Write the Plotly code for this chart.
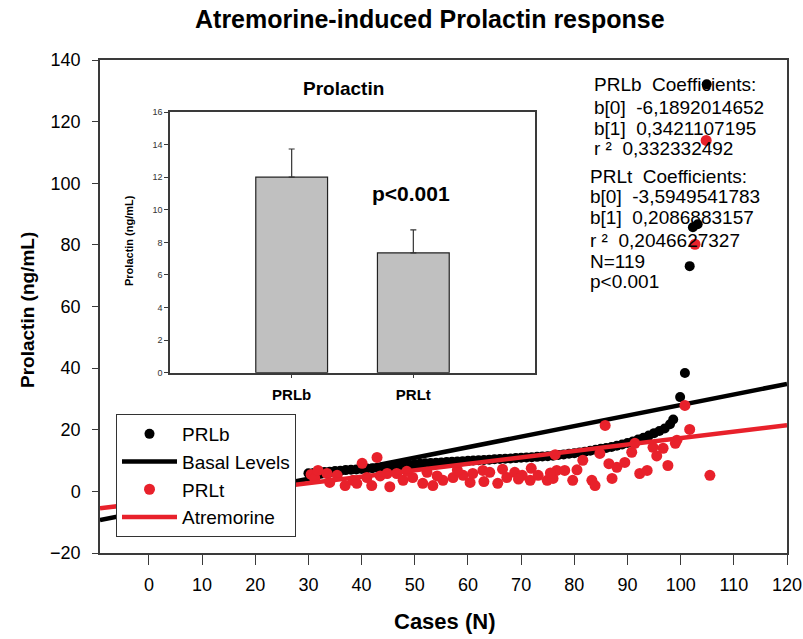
import plotly.graph_objects as go

# ---------------- data ----------------
prlb_case = [30, 31, 32, 33, 34, 35, 36, 37, 38, 39, 40, 41, 42, 43, 44, 45, 46, 47, 48, 49,
             50, 51, 52, 53, 54, 55, 56, 57, 58, 59, 60, 61, 62, 63, 64, 65, 66, 67, 68, 69,
             70, 71, 72, 73, 74, 75, 76, 77, 78, 79, 80, 81, 82, 83, 84, 85, 86, 87, 88, 89,
             90, 91, 92, 93, 94, 95, 96, 97, 98, 98.6, 99.9, 100.8, 101.7, 102.3, 103.2, 104.9]
prlb_value = [5.9, 6.0, 6.2, 6.3, 6.4, 6.6, 6.7, 6.9, 7.0, 7.1, 7.3, 7.4, 7.5, 7.6, 7.8, 7.9, 8.1, 8.2, 8.4, 8.6,
              8.8, 9.0, 9.1, 9.2, 9.3, 9.4, 9.5, 9.6, 9.7, 9.8, 9.9, 10.0, 10.1, 10.2, 10.3, 10.4, 10.5, 10.6, 10.7, 10.8,
              10.9, 11.0, 11.1, 11.2, 11.3, 11.4, 11.6, 11.8, 12.0, 12.2, 12.4, 12.6, 12.9, 13.2, 13.5, 13.8, 14.1, 14.4, 14.8, 15.2,
              15.7, 16.2, 16.8, 17.4, 18.1, 18.9, 19.6, 20.4, 21.8, 23.3, 30.6, 38.4, 73.1, 85.7, 86.7, 132.1]

prlt_case = [30.5, 31.2, 31.8, 33.5, 34.0, 35.4, 36.9, 38.4, 39.1, 40.1, 41.0, 41.9, 42.9, 43.5, 44.8, 45.3,
             46.6, 47.8, 49.6, 51.5, 52.3, 53.4, 55.3, 57.2, 59.1, 60.4, 60.9, 62.8, 64.1, 65.6, 67.3, 68.8,
             70.2, 71.7, 71.9, 73.2, 74.9, 76.0, 76.4, 76.7, 78.2, 79.7, 81.6, 83.3, 83.9, 84.8, 85.8, 87.1,
             88.0, 89.5, 90.8, 91.4, 92.3, 93.7, 94.8, 96.7, 97.6, 99.0, 99.3, 100.8, 101.7, 102.7, 104.8, 105.5,
             48.5, 54.2, 58.0, 63.0, 66.5, 69.5, 75.5, 80.5, 86.5, 95.5]
prlt_value = [5.5, 4.2, 6.8, 5.8, 2.9, 5.2, 1.9, 3.6, 2.6, 9.1, 4.5, 1.9, 11.0, 5.0, 5.8, 1.5,
              5.8, 3.6, 4.5, 2.6, 6.2, 1.9, 3.6, 4.5, 5.2, 2.9, 5.8, 6.8, 6.2, 2.6, 4.5, 6.2,
              5.2, 3.6, 7.5, 5.2, 3.6, 4.2, 11.9, 6.8, 6.8, 3.6, 10.1, 3.6, 1.9, 12.3, 21.4, 4.2,
              7.8, 9.4, 12.7, 15.6, 5.8, 6.8, 14.3, 14.0, 8.4, 15.6, 16.6, 27.9, 20.1, 80.2, 113.9, 5.2,
              6.5, 5.0, 6.9, 3.2, 7.2, 4.0, 6.0, 7.0, 9.0, 11.5]

fit_range = [-9.2, 120]
basal_coef = [-6.1892014652, 0.3421107195]
atrem_coef = [-3.5949541783, 0.2086883157]

bar_labels = ["PRLb", "PRLt"]
bar_means = [12.0, 7.35]
bar_errors = [1.73, 1.42]

x_ticks = [0, 10, 20, 30, 40, 50, 60, 70, 80, 90, 100, 110, 120]
y_ticks = [-20, 0, 20, 40, 60, 80, 100, 120, 140]
inset_y_ticks = [0, 2, 4, 6, 8, 10, 12, 14, 16]

coef_lines = ["PRLb\u00a0\u00a0Coefficients:", "b[0]\u00a0\u00a0-6,1892014652", "b[1]\u00a0\u00a00,3421107195",
              "r\u00a0²\u00a0\u00a00,332332492",
              "PRLt\u00a0\u00a0Coefficients:", "b[0]\u00a0\u00a0-3,5949541783", "b[1]\u00a0\u00a00,2086883157",
              "r\u00a0²\u00a0\u00a00,2046627327", "N=119", "p<0.001"]

# ---------------- styling ----------------
FONT = "Arial, 'Liberation Sans', sans-serif"
RED = "#e8212b"
AX = "#3a3a3a"

# plot area at page pixels x 100..787, y 60..553 (page body margin removed below)
W, H = 803, 639
PLOT_L, PLOT_R, PLOT_T, PLOT_B = 100, 787, 60, 553
L, T, R, B = PLOT_L, PLOT_T, W - PLOT_R, H - PLOT_B
PW, PH = PLOT_R - PLOT_L, PLOT_B - PLOT_T


def px_x(px):
    return (px - PLOT_L) / PW


def px_y(py):
    return (PLOT_B - py) / PH


fit_basal = [basal_coef[0] + basal_coef[1] * v for v in fit_range]
fit_atrem = [atrem_coef[0] + atrem_coef[1] * v for v in fit_range]

fig = go.Figure()
fig.add_trace(go.Scatter(x=prlb_case, y=prlb_value, mode="markers", name="PRLb",
                         marker=dict(color="black", size=10)))
fig.add_trace(go.Scatter(x=fit_range, y=fit_basal, mode="lines", name="Basal Levels",
                         line=dict(color="black", width=4.5)))
fig.add_trace(go.Scatter(x=prlt_case, y=prlt_value, mode="markers", name="PRLt",
                         marker=dict(color=RED, size=11)))
fig.add_trace(go.Scatter(x=fit_range, y=fit_atrem, mode="lines", name="Atremorine",
                         line=dict(color=RED, width=4.5)))

fig.add_trace(go.Bar(x=bar_labels, y=bar_means, xaxis="x2", yaxis="y2", showlegend=False,
                     width=0.59,
                     marker=dict(color="#c0c0c0", line=dict(color="#222", width=1.2)),
                     error_y=dict(type="data", array=bar_errors, arrayminus=[0, 0], symmetric=False,
                                  color="#333", thickness=1.2, width=3)))


def label(text, sx, sy, size, angle=0, xanchor="center"):
    return dict(text=text, x=px_x(sx), y=px_y(sy), xref="paper", yref="paper",
                xanchor=xanchor, yanchor="middle", showarrow=False, textangle=angle,
                font=dict(size=size, color="black", family=FONT))


annotations = [
    label("<b>Atremorine-induced Prolactin response</b>", 430, 19, 25),
    label("<b>Cases (N)</b>", 444, 621, 22),
    label("<b>Prolactin (ng/mL)</b>", 27, 310, 19, angle=-90),
    label("<b>Prolactin</b>", 343, 88, 19),
    label("<b>p<0.001</b>", 411, 193, 21),
    label("<b>Prolactin (ng/mL)</b>", 129, 241, 11, angle=-90),
]

line_y = [85, 107, 128, 149, 176, 197, 218, 240, 261, 281]
line_x = [592, 592, 592, 592, 588, 588, 588, 588, 588, 588]
for txt, lx, ly in zip(coef_lines, line_x, line_y):
    annotations.append(label(txt, lx, ly, 19, xanchor="left"))

fig.update_layout(
    width=W, height=H,
    margin=dict(l=L, r=R, t=T, b=B, autoexpand=False),
    paper_bgcolor="white", plot_bgcolor="white",
    font=dict(family=FONT, color="black"),
    showlegend=True,
    legend=dict(x=px_x(116), y=px_y(414), xanchor="left", yanchor="top",
                bgcolor="white", bordercolor="#333", borderwidth=1, itemwidth=55,
                font=dict(size=19, color="black", family=FONT), tracegroupgap=0),
    xaxis=dict(range=fit_range, tickvals=x_ticks, ticks="outside", ticklen=10, tickwidth=1.2, tickcolor=AX,
               showline=True, linecolor=AX, linewidth=1.5, mirror=True, showgrid=False, zeroline=False,
               tickfont=dict(size=18, color="black"), ticklabelstandoff=5, automargin=False,
               ticklabeloverflow="allow"),
    yaxis=dict(range=[-20, 140], tickvals=y_ticks, ticks="outside", ticklen=6, tickwidth=1.2, tickcolor=AX,
               showline=True, linecolor=AX, linewidth=1.5, mirror=True, showgrid=False, zeroline=False,
               tickfont=dict(size=18, color="black"), ticklabelstandoff=8, automargin=False),
    xaxis2=dict(domain=[px_x(170), px_x(535)], anchor="y2", range=[-1, 2], type="category",
                tickvals=bar_labels, ticktext=["<b>%s</b>" % c for c in bar_labels],
                ticks="outside", ticklen=4, tickcolor=AX, showline=True, linecolor=AX, linewidth=1.5,
                mirror=True, showgrid=False, zeroline=False, tickfont=dict(size=15, color="black"),
                ticklabelstandoff=4, automargin=False),
    yaxis2=dict(domain=[px_y(372.7), px_y(112)], anchor="x2", range=[0, 16], tickvals=inset_y_ticks,
                ticks="outside", ticklen=4, tickcolor=AX, showline=True, linecolor=AX, linewidth=1.5,
                mirror=True, showgrid=False, zeroline=False, tickfont=dict(size=9, color="#333"),
                automargin=False),
    annotations=annotations,
)

fig.write_html("out.html", config={"displayModeBar": False},
               post_script="document.body.style.margin='0px';")
